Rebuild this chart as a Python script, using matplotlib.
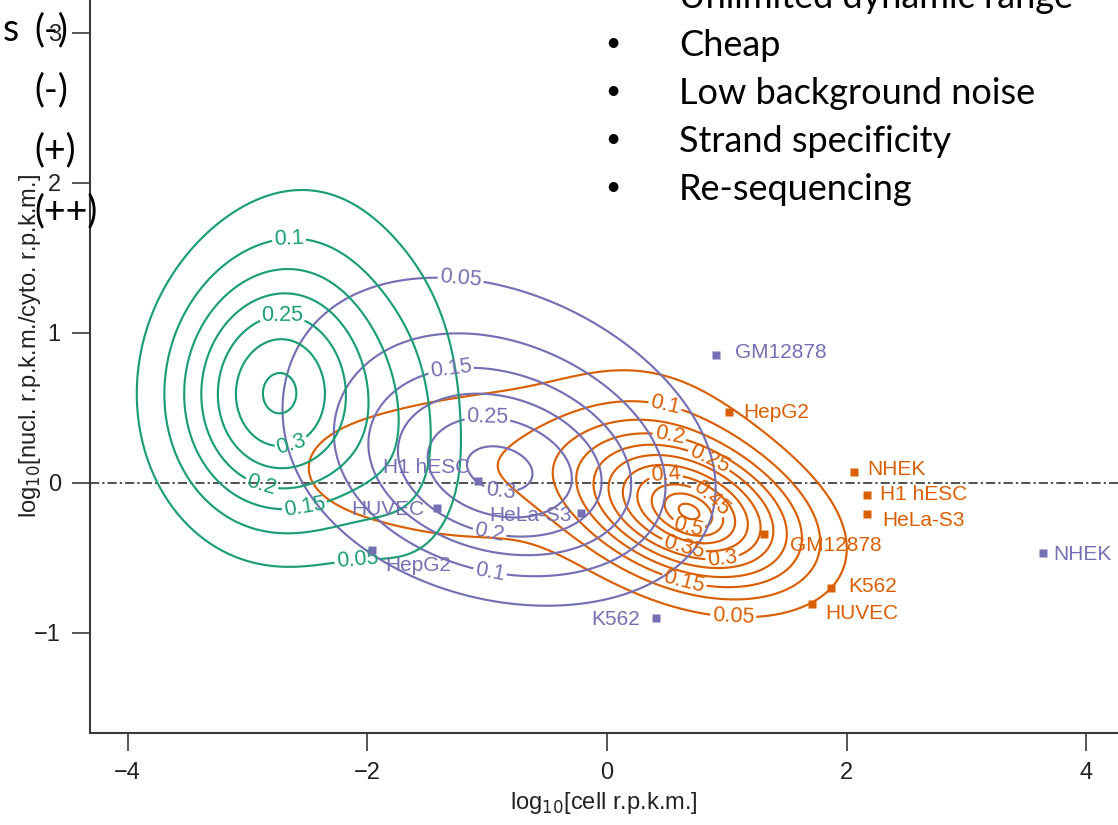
import numpy as np
import matplotlib
matplotlib.use("Agg")
import matplotlib.pyplot as plt

W, H = 1118, 825

# ---------------- data ----------------
# density models: Gaussian bumps (mean x, mean y, sd x, sd y, corr, peak height)
green_mx = [-2.78, -2.45, -1.85, -1.60]
green_my = [0.56, 1.00, -0.05, 0.30]
green_sx = [0.58, 0.70, 0.45, 0.32]
green_sy = [0.55, 0.80, 0.35, 0.60]
green_rho = [0.0, 0.0, 0.0, 0.0]
green_amp = [0.295, 0.080, 0.030, 0.050]
green_levels = [0.05, 0.1, 0.15, 0.2, 0.25, 0.3, 0.35]
green_label_levels = [0.1, 0.25, 0.3, 0.2, 0.15, 0.05]

purple_mx = [-0.90, -0.95]
purple_my = [0.03, 0.45]
purple_sx = [0.80, 1.20]
purple_sy = [0.42, 0.70]
purple_rho = [-0.2, -0.3]
purple_amp = [0.217, 0.115]
purple_levels = [0.05, 0.1, 0.15, 0.2, 0.25, 0.3]
purple_label_levels = [0.05, 0.15, 0.25, 0.3, 0.2, 0.1]

orange_mx = [0.695, 0.695, 0.40, -0.90, -2.00]
orange_my = [-0.20, -0.20, 0.30, 0.10, 0.10]
orange_sx = [0.62, 0.16, 0.60, 0.60, 0.85]
orange_sy = [0.33, 0.10, 0.42, 0.43, 0.43]
orange_rho = [-0.35, -0.35, -0.2, 0.0, 0.0]
orange_amp = [0.45, 0.08, 0.07, 0.055, 0.057]
orange_levels = [0.05, 0.1, 0.15, 0.2, 0.25, 0.3, 0.35, 0.4, 0.45, 0.5, 0.55]
orange_label_levels = [0.1, 0.2, 0.25, 0.4, 0.45, 0.5, 0.35, 0.3, 0.15, 0.05]

# cell-line points
cell_lines = ["GM12878", "H1 hESC", "HUVEC", "HeLa-S3", "HepG2", "K562", "NHEK"]
purple_px = [0.91, -1.08, -1.42, -0.22, -1.96, 0.41, 3.64]
purple_py = [0.85, 0.01, -0.17, -0.20, -0.45, -0.90, -0.47]
orange_px = [1.31, 2.17, 1.71, 2.17, 1.02, 1.87, 2.06]
orange_py = [-0.34, -0.08, -0.81, -0.21, 0.47, -0.70, 0.07]

x_ticks = [-4, -2, 0, 2, 4]
y_ticks = [-1, 0, 1, 2, 3]

bullets = ["Unlimited dynamic range", "Cheap", "Low background noise",
           "Strand specificity", "Re-sequencing"]
left_marks = ["(-)", "(-)", "(+)", "(++)"]

# ---------------- layout / style ----------------
C_GREEN = "#1B9E77"
C_ORANGE = "#D95F02"
C_PURPLE = "#7570B3"
AX_COL = "#3a3a3a"
LAB_FONT = ["Liberation Sans", "DejaVu Sans"]
SLIDE_FONT = ["Lato", "DejaVu Sans"]

plt.rcParams["font.family"] = LAB_FONT

green_lab_pos = [(-2.66, 1.74), (-2.71, 1.19), (-2.63, 0.25), (-2.90, -0.06),
                 (-2.52, -0.17), (-2.08, -0.53)]
purple_lab_pos = [(-1.21, 1.45), (-1.31, 0.81), (-1.00, 0.39), (-0.89, -0.06),
                  (-0.98, -0.33), (-0.98, -0.61)]
orange_lab_pos = [(0.50, 0.57), (0.53, 0.35), (0.88, 0.20), (0.49, 0.09),
                  (0.88, -0.09), (0.68, -0.29), (0.61, -0.51), (0.97, -0.57),
                  (0.61, -0.76), (1.05, -0.93)]

# text anchors (data coords) and alignment for point labels
purple_txt = [(1.07, 0.87, "left"), (-1.14, 0.10, "right"), (-1.52, -0.18, "right"),
              (-0.29, -0.22, "right"), (-1.85, -0.55, "left"), (0.275, -0.91, "right"),
              (3.72, -0.48, "left")]
orange_txt = [(1.53, -0.42, "left"), (2.28, -0.08, "left"), (1.82, -0.87, "left"),
              (2.30, -0.25, "left"), (1.135, 0.47, "left"), (2.01, -0.69, "left"),
              (2.17, 0.087, "left")]


def bumps(X, Y, mx, my, sx, sy, rho, amp):
    Z = np.zeros_like(X)
    for a, b, s1, s2, r, h in zip(mx, my, sx, sy, rho, amp):
        dx = (X - a) / s1
        dy = (Y - b) / s2
        q = (dx * dx + dy * dy - 2 * r * dx * dy) / (1 - r * r)
        Z += h * np.exp(-0.5 * q)
    return Z


fig = plt.figure(figsize=(W / 100, H / 100), dpi=100)
px_left, px_bottom, px_top = 90, 733, -41
ax = fig.add_axes([px_left / W, (H - px_bottom) / H, (W - px_left) / W,
                   (px_bottom - px_top) / H])
ax.set_xlim(-4.313, 4.263)
ax.set_ylim(-1.667, 3.493)

gx = np.linspace(-4.6, 4.6, 520)
gy = np.linspace(-2.0, 3.6, 420)
X, Y = np.meshgrid(gx, gy)

specs = [
    (orange_mx, orange_my, orange_sx, orange_sy, orange_rho, orange_amp, orange_levels,
     orange_label_levels, orange_lab_pos, C_ORANGE),
    (purple_mx, purple_my, purple_sx, purple_sy, purple_rho, purple_amp, purple_levels,
     purple_label_levels, purple_lab_pos, C_PURPLE),
    (green_mx, green_my, green_sx, green_sy, green_rho, green_amp, green_levels,
     green_label_levels, green_lab_pos, C_GREEN),
]
for mx, my, sx, sy, rho, amp, levels, llev, lpos, col in specs:
    Z = bumps(X, Y, mx, my, sx, sy, rho, amp)
    label_at = dict(zip(llev, lpos))
    for lev in levels:
        if Z.max() <= lev:
            continue
        cs = ax.contour(X, Y, Z, levels=[lev], colors=col, linewidths=1.55)
        if lev in label_at:
            try:
                ax.clabel(cs, manual=[label_at[lev]], inline=True, inline_spacing=2,
                          fmt="%g", fontsize=15.5, colors=col)
            except Exception:
                pass

ax.axhline(0, color="#222222", lw=1.1, ls=(0, (6, 2, 1.5, 2)), zorder=1)

ax.plot(purple_px, purple_py, "s", color=C_PURPLE, ms=6, mec="none", zorder=5)
ax.plot(orange_px, orange_py, "s", color=C_ORANGE, ms=6, mec="none", zorder=5)
for name, (tx, ty, ha) in zip(cell_lines, purple_txt):
    ax.text(tx, ty, name, color=C_PURPLE, fontsize=15, ha=ha, va="center")
for name, (tx, ty, ha) in zip(cell_lines, orange_txt):
    ax.text(tx, ty, name, color=C_ORANGE, fontsize=15, ha=ha, va="center")

for s in ["top", "right"]:
    ax.spines[s].set_visible(False)
for s in ["left", "bottom"]:
    ax.spines[s].set_color(AX_COL)
    ax.spines[s].set_linewidth(1.5)
ax.set_xticks(x_ticks)
ax.set_yticks(y_ticks)
ax.tick_params(direction="out", length=13, width=1.2, color=AX_COL,
               labelsize=17, labelcolor="#222222", pad=8)
ax.set_xlabel("log$_{10}$[cell r.p.k.m.]", fontsize=17, color="#222222", labelpad=4)

fx = lambda p: p / W
fy = lambda p: 1 - p / H
fig.text(fx(30), fy(346), "log$_{10}$[nucl. r.p.k.m./cyto. r.p.k.m.]", fontsize=17,
         color="#222222", rotation=90, ha="center", va="center")

# slide overlay text
fig.text(fx(3), fy(30), "s", fontsize=27, family=SLIDE_FONT, va="center", ha="left")
for lab, yy in zip(left_marks, [30, 90, 150, 211]):
    fig.text(fx(34), fy(yy), lab, fontsize=27, family=SLIDE_FONT, va="center", ha="left")
for i, b in enumerate(bullets):
    yb = 8 + 48 * i
    fig.text(fx(679), fy(yb), b, fontsize=26, family=SLIDE_FONT, va="baseline", ha="left")
    if i > 0:
        fig.text(fx(613), fy(yb - 12), "\u2022", fontsize=19, family=SLIDE_FONT,
                 va="center", ha="center")

fig.savefig("out.png", dpi=100)
